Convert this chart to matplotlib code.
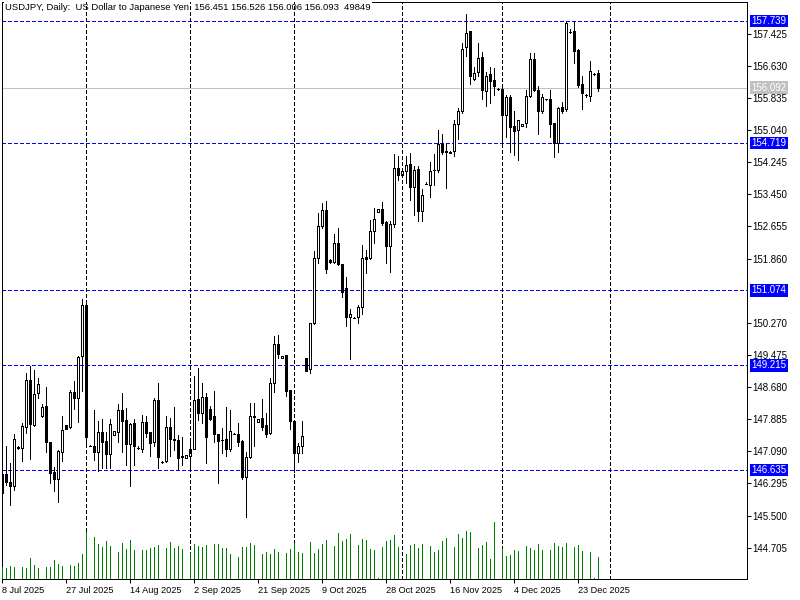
import numpy as np
import pandas as pd
import matplotlib
matplotlib.use('Agg')
import matplotlib.pyplot as plt
from matplotlib.transforms import blended_transform_factory

plt.rcParams['font.family'] = ['Liberation Sans', 'DejaVu Sans']
plt.rcParams['lines.scale_dashes'] = False

# daily bars, broker feed has Sunday bars and no Saturdays
dates = pd.bdate_range('2025-07-08', '2025-12-29', freq='C',
                       weekmask='Sun Mon Tue Wed Thu Fri')

opens = [146.52, 146.52, 146.32, 146.22, 147.18, 147.18, 147.68, 148.86, 147.74, 148.53,
         147.96, 148.21, 147.31, 146.58, 146.41, 147.08, 147.73, 147.68, 148.56, 148.42,
         149.46, 150.71, 147.23, 147.22, 147.08, 147.57, 147.35, 147.02, 147.49, 147.56,
         148.11, 147.87, 147.27, 147.78, 147.18, 147.16, 147.82, 147.57, 147.31, 148.36,
         146.82, 146.85, 147.69, 147.39, 147.37, 146.97, 146.92, 146.98, 147.16, 148.38,
         148.05, 148.43, 148.13, 147.96, 147.51, 147.37, 147.39, 147.15, 147.53, 147.53,
         147.35, 146.45, 146.94, 147.96, 147.82, 147.92, 147.74, 147.55, 148.77, 149.74,
         149.39, 149.47, 148.61, 147.84, 147.04, 147.22, 149.39, 149.12, 150.26, 151.87,
         152.67, 153.06, 151.83, 151.78, 152.25, 151.72, 151.12, 150.41, 150.40, 150.41,
         150.67, 151.89, 151.88, 152.54, 153.02, 153.08, 152.77, 152.18, 152.72, 154.10,
         153.93, 154.02, 154.20, 153.63, 154.08, 153.03, 153.71, 153.68, 154.04, 154.04,
         154.70, 154.50, 154.50, 154.52, 155.19, 155.52, 157.09, 157.48, 156.31, 156.47,
         156.86, 156.01, 156.43, 156.28, 156.06, 156.06, 155.42, 155.87, 155.13, 155.03,
         155.14, 155.21, 155.89, 156.80, 156.02, 155.52, 155.80, 155.81, 155.21, 154.72,
         155.62, 155.55, 157.46, 157.48, 157.02, 156.18, 155.90, 155.88, 156.43, 156.451]

highs = [146.55, 147.21, 146.81, 147.52, 147.21, 147.78, 149.04, 149.20, 149.10, 148.91,
         148.27, 148.68, 147.31, 146.71, 147.12, 147.96, 147.73, 148.60, 148.83, 149.46,
         150.86, 150.75, 147.25, 148.11, 147.84, 147.88, 147.57, 147.88, 147.59, 148.27,
         148.53, 148.17, 147.78, 147.89, 147.21, 147.98, 147.96, 147.58, 148.42, 148.79,
         146.84, 147.96, 147.92, 148.19, 147.49, 147.45, 147.00, 147.40, 148.95, 149.16,
         148.79, 148.54, 148.21, 148.58, 147.53, 147.66, 148.19, 148.11, 147.55, 147.78,
         147.36, 147.07, 148.28, 148.28, 147.89, 148.38, 148.05, 148.91, 149.94, 149.97,
         149.45, 149.47, 148.61, 147.84, 147.29, 147.84, 149.39, 150.26, 152.05, 153.00,
         153.23, 153.29, 151.85, 152.47, 152.61, 151.72, 151.40, 150.60, 150.42, 150.71,
         152.20, 152.07, 152.81, 153.10, 153.09, 153.27, 152.80, 152.80, 154.45, 154.41,
         154.03, 154.41, 154.48, 154.15, 154.16, 153.58, 153.75, 154.24, 154.45, 155.04,
         154.95, 154.70, 154.51, 155.30, 155.59, 157.19, 157.90, 157.50, 156.60, 157.19,
         156.98, 156.47, 156.60, 156.57, 156.08, 156.10, 155.90, 155.90, 155.52, 155.29,
         155.19, 156.02, 156.94, 156.94, 156.14, 155.94, 155.82, 156.03, 155.21, 155.62,
         155.73, 157.71, 157.54, 157.71, 157.05, 156.39, 155.93, 156.74, 156.45, 156.526]

lows = [145.98, 146.26, 145.75, 146.13, 147.16, 146.85, 147.55, 146.90, 147.72, 148.40,
        147.94, 147.08, 146.31, 146.12, 145.84, 146.85, 147.65, 147.66, 148.15, 147.81,
        148.58, 147.29, 147.21, 146.88, 146.61, 146.69, 146.69, 146.69, 147.49, 147.33,
        147.08, 146.74, 146.22, 146.74, 147.14, 147.07, 147.45, 146.98, 147.21, 146.69,
        146.80, 146.82, 146.98, 147.12, 146.65, 146.75, 146.92, 146.71, 147.14, 147.87,
        147.80, 146.81, 147.86, 147.33, 146.31, 147.04, 146.98, 147.11, 147.51, 147.21,
        146.40, 145.47, 146.92, 147.21, 147.82, 147.62, 147.45, 147.53, 148.57, 149.41,
        149.39, 148.47, 147.64, 146.57, 146.82, 147.04, 149.07, 149.04, 150.24, 151.74,
        152.62, 151.51, 151.76, 151.76, 151.69, 150.90, 150.20, 149.38, 150.38, 150.27,
        150.48, 151.50, 151.85, 152.24, 153.01, 152.70, 151.76, 151.54, 152.65, 153.80,
        153.92, 153.73, 153.30, 152.94, 152.80, 152.80, 153.70, 153.38, 153.68, 154.01,
        154.45, 153.60, 154.47, 154.39, 154.82, 155.45, 156.88, 156.18, 156.29, 156.39,
        155.80, 155.63, 155.71, 155.90, 156.04, 154.68, 154.86, 154.49, 154.43, 154.31,
        155.14, 155.11, 155.85, 156.00, 154.95, 155.46, 155.79, 154.86, 154.37, 154.49,
        155.45, 155.50, 157.45, 156.70, 156.10, 155.56, 155.87, 155.77, 156.41, 156.006]

closes = [146.05, 146.32, 146.22, 147.39, 147.19, 147.72, 148.86, 147.76, 148.50, 148.75,
          148.19, 147.31, 146.56, 146.41, 147.10, 147.61, 147.65, 148.56, 148.42, 149.43,
          150.71, 147.45, 147.23, 147.08, 147.57, 147.31, 147.02, 147.76, 147.59, 148.11,
          147.85, 147.26, 147.77, 147.23, 147.18, 147.82, 147.55, 147.29, 148.36, 146.96,
          146.82, 147.69, 147.39, 147.38, 146.93, 146.94, 147.00, 147.16, 148.36, 148.05,
          148.43, 147.45, 147.88, 147.51, 147.35, 147.36, 147.16, 147.59, 147.53, 147.33,
          146.46, 146.94, 147.96, 147.95, 147.89, 147.70, 147.53, 148.77, 149.74, 149.50,
          149.45, 148.58, 147.85, 147.04, 147.22, 147.47, 149.09, 150.26, 151.87, 152.67,
          153.06, 151.60, 151.77, 152.24, 151.72, 151.04, 150.41, 150.48, 150.40, 150.65,
          151.87, 151.85, 152.54, 152.83, 153.08, 152.75, 152.18, 152.72, 154.10, 153.93,
          154.02, 154.18, 153.63, 154.06, 153.03, 153.44, 153.71, 154.02, 154.04, 154.70,
          154.49, 154.51, 154.48, 155.19, 155.52, 157.05, 157.45, 156.37, 156.45, 156.83,
          156.02, 156.38, 156.25, 156.12, 156.06, 155.41, 155.85, 155.11, 155.01, 155.29,
          155.19, 155.89, 156.80, 156.02, 155.50, 155.85, 155.80, 155.19, 154.72, 155.59,
          155.52, 157.69, 157.46, 156.99, 156.16, 155.95, 155.90, 156.49, 156.43, 156.093]

volumes = [26400, 24900, 29400, 27900, 600, 27200, 24900, 47600, 31700, 24900,
           500, 27200, 27200, 43000, 34000, 29400, 700, 31700, 29400, 36200,
           56600, 106500, 800, 95100, 79300, 72500, 86100, 74700, 600, 61200,
           81500, 68000, 88300, 65700, 600, 65700, 65700, 70200, 72500, 77000,
           700, 70200, 83800, 70200, 74700, 68000, 600, 58900, 79300, 74700,
           72500, 77000, 700, 79300, 79300, 70200, 70200, 56600, 600, 49800,
           72500, 72500, 81500, 77000, 700, 56600, 61200, 56600, 68000, 61200,
           600, 58900, 68000, 81500, 61200, 58900, 900, 83800, 58900, 68000,
           79300, 88300, 700, 74700, 104200, 86100, 90600, 101900, 600, 77000,
           90600, 88300, 68000, 65700, 2300, 72500, 86100, 88300, 99700, 72500,
           700, 56600, 77000, 79300, 70200, 79300, 600, 74700, 61200, 65700,
           86100, 92900, 700, 72500, 101900, 92900, 108700, 106500, 800, 70200,
           77000, 83800, 45300, 129100, 700, 68000, 52100, 54400, 65700, 63400,
           600, 74700, 70200, 65700, 79300, 65700, 700, 65700, 81500, 74700,
           72500, 81500, 600, 72500, 77000, 63400, 300, 61200, 2300, 49849]

# horizontal levels drawn on the chart
levels = [157.739, 154.719, 151.074, 149.215, 146.635]
bid = 156.092
price_ticks = [157.425, 156.630, 155.835, 155.040, 154.245, 153.450, 152.655, 151.860,
               150.270, 149.475, 148.680, 147.885, 147.090, 146.295, 145.500, 144.705]
date_labels = ['8 Jul 2025', '27 Jul 2025', '14 Aug 2025', '2 Sep 2025', '21 Sep 2025',
               '9 Oct 2025', '28 Oct 2025', '16 Nov 2025', '4 Dec 2025', '23 Dec 2025']
month_starts = ['2025-08-01', '2025-09-01', '2025-10-01', '2025-11-02', '2025-12-01', '2026-01-01']
title = 'USDJPY, Daily:  US Dollar to Japanese Yen  156.451 156.526 156.006 156.093  49849'

df = pd.DataFrame({'open': opens, 'high': highs, 'low': lows, 'close': closes,
                   'volume': volumes}, index=dates)
x = np.arange(len(df))
px = 0.72  # one pixel in points at 100 dpi

fig = plt.figure(figsize=(8, 6), dpi=100)
ax = fig.add_axes([2/800, 21/600, 745/800, 577/600])
ax.set_xlim(-0.075, 186.175)
ax.set_ylim(143.931, 158.209)

# volume on its own scale at the bottom
axv = ax.twinx()
axv.set_ylim(0, 1.307e6)
axv.vlines(x, 0, df['volume'], color='#008000', lw=px, antialiased=False)
axv.set_yticks([])
for s in axv.spines.values():
    s.set_visible(False)

# candles
up = df['close'] >= df['open']
ax.vlines(x, df['low'], df['high'], color='black', lw=px, antialiased=False, zorder=2)
body_lo = np.minimum(df['open'], df['close'])
body_h = (df['close'] - df['open']).abs()
ax.bar(x[up], body_h[up], bottom=body_lo[up], width=0.55, facecolor='white',
       edgecolor='black', linewidth=px, antialiased=False, zorder=3)
ax.bar(x[~up], body_h[~up], bottom=body_lo[~up], width=0.55, facecolor='black',
       edgecolor='black', linewidth=px, antialiased=False, zorder=3)

# level lines
for lv in levels:
    ax.axhline(lv, color='#0000ff', lw=px, dashes=(2.2, 1.5), antialiased=False, zorder=1)
ax.axhline(bid, color='#c0c0c0', lw=px, antialiased=False, zorder=1)

# month separators
day_pos = {d.strftime('%Y-%m-%d'): i for i, d in enumerate(df.index)}
for m in month_starts:
    if m in day_pos:
        xm = day_pos[m]
    else:
        xm = len(df) + (pd.Timestamp(m) - df.index[-1]).days - 1
    ax.axvline(xm, color='black', lw=px, dashes=(2.2, 1.5), antialiased=False, zorder=4)

# axes style
for side in ['left', 'top', 'right', 'bottom']:
    ax.spines[side].set_linewidth(px)
ax.yaxis.tick_right()
ax.set_yticks(price_ticks)
ax.set_yticklabels([f'{t:.3f}' for t in price_ticks])
ax.tick_params(axis='y', direction='out', length=3, width=px, pad=1, labelsize=7)

label_pos = [day_pos[pd.Timestamp(d).strftime('%Y-%m-%d')] for d in date_labels]
ax.set_xticks(label_pos)
ax.set_xticklabels(date_labels, ha='left')
ax.tick_params(axis='x', direction='out', length=3, width=px, pad=2, labelsize=6.6)

# right side price boxes
ytr = blended_transform_factory(ax.transAxes, ax.transData)
for lv in levels:
    ax.text(1.006, lv, f'{lv:.3f}', transform=ytr, color='white', fontsize=7,
            va='center', ha='left',
            bbox=dict(boxstyle='square,pad=0.12', fc='#0000ff', ec='none'), clip_on=False)
ax.text(1.006, bid, f'{bid:.3f}', transform=ytr, color='white', fontsize=7,
        va='center', ha='left',
        bbox=dict(boxstyle='square,pad=0.12', fc='#c0c0c0', ec='none'), clip_on=False)

ax.text(0.004, 0.9975, title, transform=ax.transAxes, fontsize=6.8, va='top', ha='left',
        bbox=dict(boxstyle='square,pad=0.1', fc='white', ec='none'), zorder=3.5)

fig.savefig('out.png', dpi=100)
